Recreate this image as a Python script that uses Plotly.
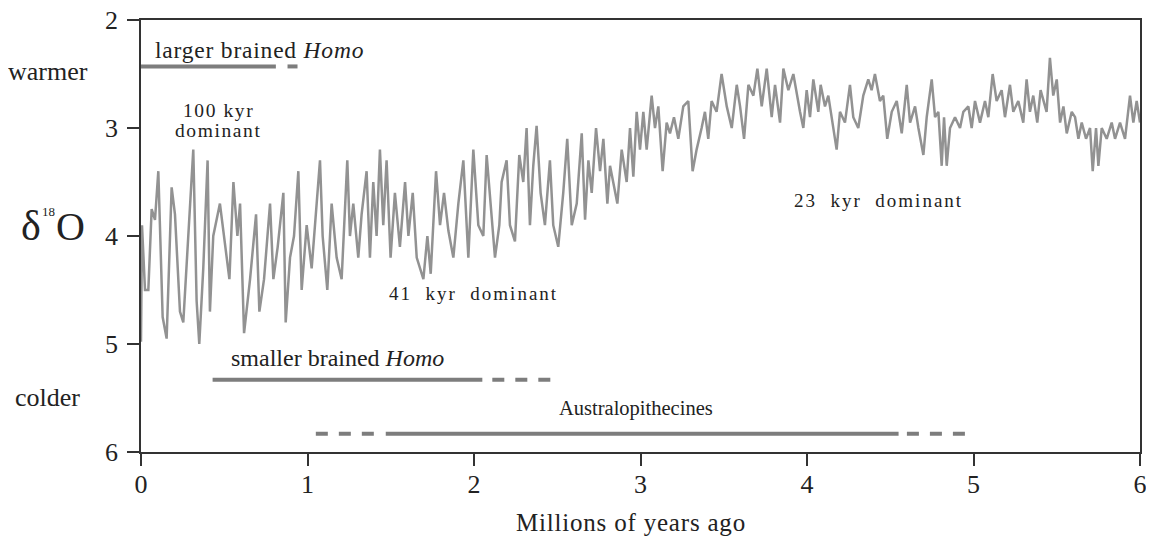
import plotly.graph_objects as go

# --- δ18O record (age in Myr, δ18O in ‰) ---
age = [0.000, 0.006, 0.024, 0.044, 0.064, 0.084, 0.104, 0.130, 0.154, 0.184,
       0.204, 0.234, 0.254, 0.284, 0.314, 0.334, 0.350, 0.374, 0.400, 0.414,
       0.434, 0.474, 0.505, 0.531, 0.555, 0.579, 0.595, 0.619, 0.655, 0.691,
       0.711, 0.739, 0.775, 0.795, 0.821, 0.855, 0.869, 0.895, 0.919, 0.945,
       0.965, 0.995, 1.025, 1.075, 1.091, 1.119, 1.145, 1.175, 1.205, 1.239,
       1.255, 1.275, 1.305, 1.325, 1.355, 1.375, 1.395, 1.415, 1.435, 1.455,
       1.475, 1.499, 1.525, 1.555, 1.586, 1.606, 1.632, 1.656, 1.696, 1.720,
       1.740, 1.772, 1.796, 1.820, 1.846, 1.876, 1.906, 1.936, 1.966, 1.996,
       2.026, 2.056, 2.076, 2.100, 2.126, 2.152, 2.166, 2.196, 2.216, 2.246,
       2.272, 2.296, 2.316, 2.336, 2.356, 2.376, 2.400, 2.426, 2.456, 2.476,
       2.506, 2.536, 2.560, 2.587, 2.617, 2.647, 2.667, 2.687, 2.707, 2.733,
       2.757, 2.777, 2.801, 2.817, 2.837, 2.861, 2.887, 2.917, 2.937, 2.957,
       2.977, 2.997, 3.017, 3.037, 3.067, 3.087, 3.107, 3.133, 3.157, 3.177,
       3.201, 3.227, 3.257, 3.287, 3.313, 3.337, 3.367, 3.387, 3.407, 3.427,
       3.457, 3.487, 3.518, 3.548, 3.578, 3.598, 3.622, 3.648, 3.678, 3.702,
       3.728, 3.758, 3.788, 3.808, 3.838, 3.858, 3.888, 3.918, 3.958, 3.978,
       3.998, 4.018, 4.038, 4.068, 4.082, 4.108, 4.128, 4.158, 4.178, 4.198,
       4.228, 4.258, 4.278, 4.308, 4.338, 4.368, 4.388, 4.408, 4.438, 4.458,
       4.482, 4.509, 4.539, 4.569, 4.599, 4.619, 4.649, 4.669, 4.699, 4.719,
       4.749, 4.769, 4.789, 4.809, 4.823, 4.839, 4.859, 4.889, 4.919, 4.939,
       4.969, 4.989, 5.009, 5.039, 5.069, 5.089, 5.115, 5.139, 5.169, 5.189,
       5.219, 5.239, 5.269, 5.299, 5.319, 5.339, 5.359, 5.383, 5.403, 5.439,
       5.459, 5.479, 5.500, 5.520, 5.540, 5.560, 5.590, 5.610, 5.630, 5.650,
       5.676, 5.700, 5.716, 5.736, 5.750, 5.770, 5.800, 5.830, 5.850, 5.880,
       5.910, 5.940, 5.960, 5.980, 6.000]
d18o = [4.98, 3.90, 4.50, 4.50, 3.75, 3.85, 3.40, 4.75, 4.95, 3.55,
        3.80, 4.70, 4.80, 4.00, 3.20, 4.60, 5.00, 4.30, 3.30, 4.70,
        4.00, 3.70, 4.10, 4.40, 3.50, 4.00, 3.70, 4.90, 4.40, 3.80,
        4.70, 4.40, 3.70, 4.40, 4.10, 3.60, 4.80, 4.20, 4.00, 3.40,
        4.50, 3.90, 4.30, 3.30, 4.00, 4.50, 3.70, 4.20, 4.40, 3.30,
        4.00, 3.70, 4.20, 3.80, 3.40, 4.20, 3.50, 4.00, 3.20, 3.90,
        3.30, 4.20, 3.60, 4.10, 3.50, 4.00, 3.60, 4.20, 4.40, 4.00,
        4.35, 3.40, 3.90, 3.60, 3.95, 4.20, 3.70, 3.30, 4.20, 3.20,
        3.90, 4.00, 3.25, 3.70, 4.20, 3.90, 3.50, 3.30, 3.90, 4.05,
        3.25, 3.50, 3.00, 3.90, 3.35, 2.98, 3.60, 3.90, 3.30, 3.90,
        4.10, 3.60, 3.10, 3.90, 3.70, 3.05, 3.85, 3.30, 3.60, 3.00,
        3.40, 3.10, 3.70, 3.35, 3.50, 3.70, 3.20, 3.50, 3.00, 3.45,
        2.85, 3.20, 2.85, 3.20, 2.70, 3.00, 2.80, 3.40, 2.95, 3.05,
        2.90, 3.10, 2.80, 2.75, 3.40, 3.20, 3.00, 2.85, 3.10, 2.75,
        2.85, 2.50, 2.80, 3.00, 2.60, 2.80, 3.10, 2.60, 2.70, 2.45,
        2.80, 2.45, 2.90, 2.60, 2.95, 2.45, 2.65, 2.50, 2.85, 3.00,
        2.65, 2.90, 2.55, 2.85, 2.60, 2.80, 2.70, 3.00, 3.20, 2.85,
        2.95, 2.60, 2.90, 3.00, 2.70, 2.55, 2.65, 2.50, 2.75, 2.70,
        3.10, 2.85, 2.75, 3.05, 2.60, 2.95, 2.80, 3.00, 3.25, 2.90,
        2.55, 2.90, 2.85, 3.35, 2.90, 3.35, 3.00, 2.90, 3.00, 2.85,
        2.80, 3.00, 2.75, 2.95, 2.75, 2.90, 2.50, 2.75, 2.65, 2.90,
        2.60, 2.85, 2.75, 2.95, 2.55, 2.85, 2.70, 2.95, 2.65, 2.85,
        2.35, 2.70, 2.55, 2.95, 2.80, 3.05, 2.85, 2.90, 3.10, 2.95,
        3.10, 3.00, 3.40, 3.00, 3.35, 3.00, 3.10, 2.95, 3.10, 2.95,
        3.10, 2.70, 2.95, 2.75, 2.95]

# --- hominin ranges (Myr ago) ---
taxa = ["larger brained <i>Homo</i>", "smaller brained <i>Homo</i>", "Australopithecines"]
taxa_level = [2.43, 5.33, 5.83]          # δ18O level at which each range bar is drawn
solid_from = [0.00, 0.43, 1.47]
solid_to = [0.81, 2.05, 4.55]
dash_ranges = [[(0.88, 0.94)], [(2.11, 2.49)], [(1.05, 1.41), (4.60, 4.98)]]

# --- regime labels ---
NB = "\u00a0"
regime_text = ["100 kyr", "dominant",
               "41" + NB * 2 + "kyr" + NB * 2 + "dominant",
               "23" + NB * 2 + "kyr" + NB * 2 + "dominant"]
regime_x = [0.465, 0.465, 1.997, 4.432]
regime_y = [2.835, 3.02, 4.53, 3.667]
regime_size = [19.5, 19.5, 19, 19]
regime_ls = [1.6, 1.6, 2.0, 2.0]

x_ticks = [0, 1, 2, 3, 4, 5, 6]
y_ticks = [2, 3, 4, 5, 6]

FONT = "Liberation Serif"
BAR = "#7d7d7d"

# The page adds an 8 px body margin, so the figure is 8 px smaller on each side.
W, H = 1146, 534


def spaced(t, ls):
    return '<span style="letter-spacing:%spx">%s</span>' % (ls, t)


fig = go.Figure()
fig.add_trace(go.Scatter(x=age, y=d18o, mode="lines",
                         line=dict(color="#929292", width=2.5),
                         hoverinfo="skip", showlegend=False))

for i in range(len(taxa)):
    fig.add_trace(go.Scatter(x=[solid_from[i], solid_to[i]],
                             y=[taxa_level[i], taxa_level[i]], mode="lines",
                             line=dict(color=BAR, width=4), showlegend=False))
    for (a, b) in dash_ranges[i]:
        fig.add_trace(go.Scatter(x=[a, b], y=[taxa_level[i], taxa_level[i]],
                                 mode="lines",
                                 line=dict(color=BAR, width=4, dash="12px,11px"),
                                 showlegend=False))

ann = []
# taxa labels
ann.append(dict(x=0.084, y=2.28, xref="x", yref="y", text=spaced(taxa[0], 0.8),
                xanchor="left", xshift=-2, yanchor="middle", showarrow=False,
                font=dict(size=23.5)))
ann.append(dict(x=0.547, y=5.13, xref="x", yref="y", text=taxa[1], xanchor="left",
                xshift=-3, yanchor="middle", showarrow=False, font=dict(size=24)))
ann.append(dict(x=2.97, y=5.60, xref="x", yref="y", text=taxa[2], xanchor="center",
                yanchor="middle", showarrow=False, font=dict(size=20.5)))
for t, x, y, s, ls in zip(regime_text, regime_x, regime_y, regime_size, regime_ls):
    ann.append(dict(x=x, y=y, xref="x", yref="y", text=spaced(t, ls), showarrow=False,
                    xanchor="center", yanchor="middle", font=dict(size=s)))
# side labels
ann.append(dict(x=-0.0926, y=0.880, xref="paper", yref="paper", text="warmer",
                xanchor="center", yanchor="middle", showarrow=False,
                font=dict(size=26)))
ann.append(dict(x=-0.0936, y=0.127, xref="paper", yref="paper", text="colder",
                xanchor="center", yanchor="middle", showarrow=False,
                font=dict(size=26)))
ann.append(dict(x=-0.110, y=0.522, xref="paper", yref="paper", text="δ",
                xanchor="center", yanchor="middle", showarrow=False,
                font=dict(size=42)))
ann.append(dict(x=-0.093, y=0.557, xref="paper", yref="paper", text="18",
                xanchor="center", yanchor="middle", showarrow=False,
                font=dict(size=13)))
ann.append(dict(x=-0.071, y=0.522, xref="paper", yref="paper", text="O",
                xanchor="center", yanchor="middle", showarrow=False,
                font=dict(size=40)))
ann.append(dict(x=0.49, y=-0.163, xref="paper", yref="paper",
                text=spaced("Millions of years ago", 0.8), xanchor="center",
                yanchor="middle", showarrow=False, font=dict(size=25)))

fig.update_layout(
    width=W, height=H,
    margin=dict(l=133, r=14, t=12, b=90),
    paper_bgcolor="white", plot_bgcolor="white",
    font=dict(family=FONT, color="#222222", size=21),
    annotations=ann,
    showlegend=False,
)
fig.update_xaxes(range=[0, 6], tickvals=x_ticks, ticks="outside", ticklen=12,
                 tickwidth=1.5, tickcolor="#333333", showgrid=False, zeroline=False,
                 showline=True, linecolor="#333333", linewidth=1.8, mirror=True,
                 automargin=False, ticklabelstandoff=-4, ticklabeloverflow="allow",
                 tickfont=dict(size=26, family=FONT, color="#222222"))
fig.update_yaxes(range=[6, 2], tickvals=y_ticks, ticks="outside", ticklen=12,
                 tickwidth=1.5, tickcolor="#333333", showgrid=False, zeroline=False,
                 showline=True, linecolor="#333333", linewidth=1.8, mirror=True,
                 automargin=False, ticklabelstandoff=4, ticklabeloverflow="allow",
                 tickfont=dict(size=26, family=FONT, color="#222222"))

fig.write_html("out.html")
